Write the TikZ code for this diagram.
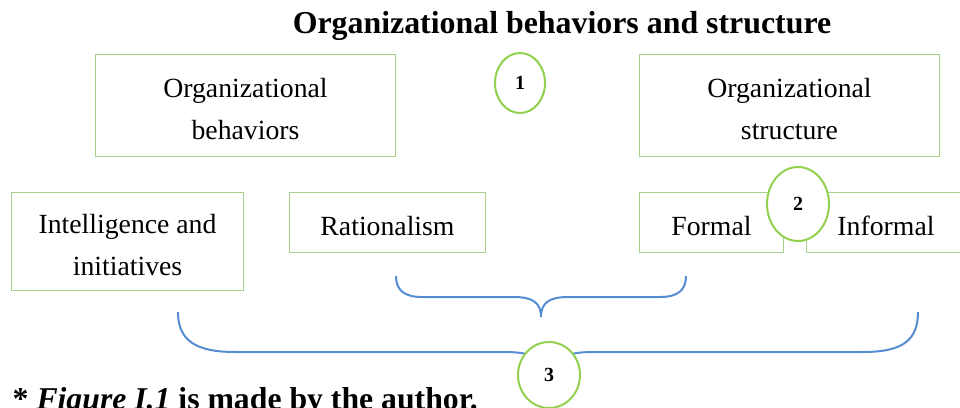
\documentclass[tikz,border=0pt]{standalone}
\usepackage{fontspec}
\setmainfont{Liberation Serif}
\usetikzlibrary{shapes.geometric}
\definecolor{boxgreen}{RGB}{169,209,142}
\definecolor{ringgreen}{RGB}{146,208,80}
\definecolor{braceblue}{RGB}{86,140,210}
\newcommand{\boxstrut}{\rule{0pt}{0.98em}}

\tikzset{
  block/.style={draw=boxgreen, line width=0.75pt, align=center, inner sep=0pt,
    font=\fontsize{20.8}{31.5}\selectfont},
  ring/.style={ellipse, draw=ringgreen, line width=1.5pt, fill=white, inner sep=0pt,
    font=\fontsize{15}{15}\selectfont\bfseries},
  brace/.style={draw=braceblue, line width=1.5pt}
}

\begin{document}
\begin{tikzpicture}[x=0.75pt,y=-0.75pt]
\useasboundingbox (0,0) rectangle (960,407);
\clip (0,0) rectangle (960,407);
\node[anchor=base, font=\fontsize{23.9}{28}\selectfont\bfseries] (title) at (562,33) {Organizational behaviors and structure};
% upper row
\node[block, minimum width=224.3pt, minimum height=75.8pt] (behav) at (245.5,105.5) {\boxstrut Organizational\\behaviors};
\node[block, minimum width=224.3pt, minimum height=75.8pt] (struct) at (789.5,105.5) {\boxstrut Organizational\\structure};
\node[ring, minimum width=37.5pt, minimum height=45pt] (one) at (520,83) {1};
% lower row
\node[block, minimum width=173.3pt, minimum height=72.8pt] (intel) at (127.5,241.5) {\boxstrut Intelligence and\\initiatives};
\node[block, minimum width=146.3pt, minimum height=44.3pt] (ratio) at (387.5,222.5) {\boxstrut Rationalism};
\node[block, minimum width=107.3pt, minimum height=44.3pt] (formal) at (711.5,222.5) {\boxstrut Formal};
\node[block, minimum width=120pt, minimum height=44.3pt] (informal) at (886,222.5) {\boxstrut Informal};
\node[ring, minimum width=46.5pt, minimum height=55.5pt] (two) at (798,204) {2};
% braces
\draw[brace] (396,276) .. controls (396,290) and (404,297) .. (422,297) -- (514,297)
  .. controls (533,297) and (541,303) .. (541,317)
  .. controls (541,303) and (549,297) .. (568,297) -- (660,297)
  .. controls (678,297) and (686,290) .. (686,276);
\draw[brace] (178,312) .. controls (178,340) and (195,352) .. (235,352) -- (505,352)
  .. controls (535,352) and (549,360) .. (549,380)
  .. controls (549,360) and (563,352) .. (593,352) -- (863,352)
  .. controls (903,352) and (918,340) .. (918,312);
\node[ring, minimum width=46.5pt, minimum height=49.5pt] (three) at (549,375) {3};
\node[anchor=base west, font=\fontsize{23.8}{28}\selectfont\bfseries] (note) at (8,409) {* \textit{Figure I.1} is made by the author.};
\end{tikzpicture}
\end{document}
